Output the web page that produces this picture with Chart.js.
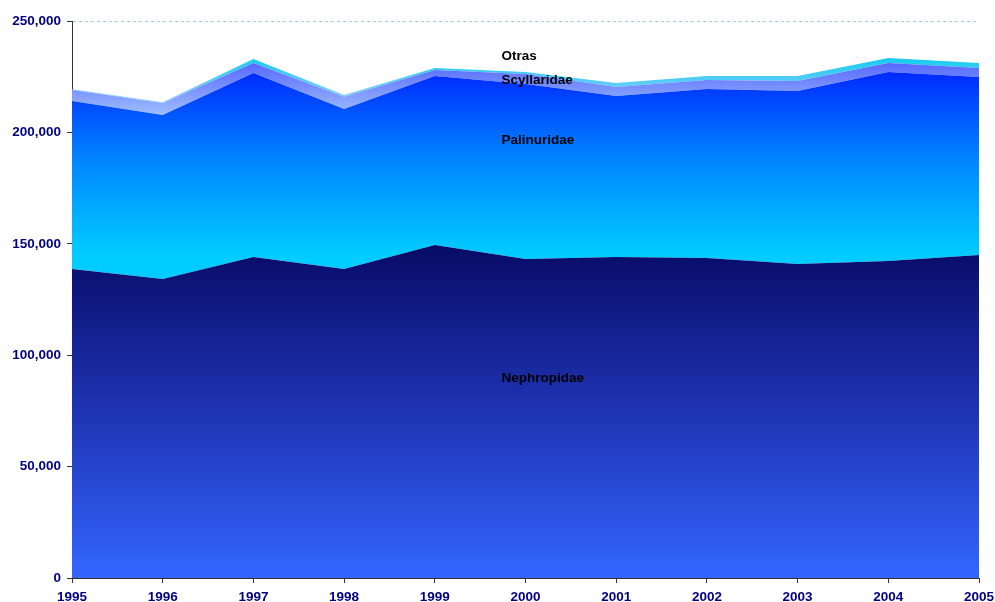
<!DOCTYPE html>
<html>
<head>
<meta charset="utf-8">
<script src="https://cdn.jsdelivr.net/npm/chart.js@4.4.1/dist/chart.umd.min.js"></script>
<style>
  html, body { margin: 0; padding: 0; background: #ffffff; }
  #chart { display: block; }
</style>
</head>
<body>
<canvas id="chart" width="995" height="602"></canvas>
<script>
// Years on the horizontal axis
const years = ['1995', '1996', '1997', '1998', '1999', '2000', '2001', '2002', '2003', '2004', '2005'];

// Catch per family (stacked areas, bottom to top)
const nephropidae = [138700, 134200, 144100, 138700, 149500, 143200, 144100, 143600, 140900, 142300, 145000];
const palinuridae = [75400, 73600, 82600, 71800, 75800, 78500, 72200, 75900, 77700, 84800, 79900];
const scyllaridae = [4900, 5400, 4400, 5500, 2700, 4500, 4100, 4000, 4500, 4000, 4000];
const otras = [400, 300, 1800, 800, 900, 900, 1800, 1800, 2200, 2300, 2200];

// Series names, written inside their own band
const seriesNames = ['Nephropidae', 'Palinuridae', 'Scyllaridae', 'Otras'];
// Where each band name sits: year it starts beside, and value height
const nameSpots = [
  { year: '2000', value: 89800 },
  { year: '2000', value: 196600 },
  { year: '2000', value: 223500 },
  { year: '2000', value: 234300 }
];

const yTicks = [0, 50000, 100000, 150000, 200000, 250000];

// Vertical gradient between values on the y scale
function bandGradient(stops) {
  return function (ctx) {
    const chart = ctx.chart;
    const area = chart.chartArea;
    if (!area) return stops[0][1];
    const y = chart.scales.y;
    const g = chart.ctx.createLinearGradient(0, y.getPixelForValue(stops[0][0]), 0, y.getPixelForValue(stops[stops.length - 1][0]));
    stops.forEach(function (s, i) { g.addColorStop(i / (stops.length - 1), s[1]); });
    return g;
  };
}

const bandLabels = {
  id: 'bandLabels',
  afterDatasetsDraw(chart) {
    const c = chart.ctx;
    const xs = chart.scales.x, ys = chart.scales.y;
    c.save();
    c.font = 'bold 13.5px "Liberation Sans", Arial, sans-serif';
    c.fillStyle = '#000000';
    c.textAlign = 'left';
    c.textBaseline = 'middle';
    seriesNames.forEach(function (name, i) {
      const spot = nameSpots[i];
      const x = xs.getPixelForValue(years.indexOf(spot.year)) - 24;
      c.fillText(name, x, ys.getPixelForValue(spot.value));
    });
    c.restore();
  }
};

const tickFont = { family: '"Liberation Sans", Arial, sans-serif', size: 13.5, weight: 'bold' };

new Chart(document.getElementById('chart'), {
  type: 'line',
  data: {
    labels: years,
    datasets: [
      {
        label: seriesNames[0], data: nephropidae, fill: 'origin',
        backgroundColor: bandGradient([[148000, '#080c68'], [75000, '#1f34b4'], [0, '#3366ff']]),
        borderWidth: 0, pointRadius: 0, tension: 0
      },
      {
        label: seriesNames[1], data: palinuridae, fill: '-1',
        backgroundColor: bandGradient([[145000, '#00ccff'], [185000, '#0088ff'], [228000, '#0028ff']]),
        borderWidth: 0, pointRadius: 0, tension: 0
      },
      {
        label: seriesNames[2], data: scyllaridae, fill: '-1',
        backgroundColor: bandGradient([[205000, '#a6c8ff'], [232000, '#5566ff']]),
        borderWidth: 0, pointRadius: 0, tension: 0
      },
      {
        label: seriesNames[3], data: otras, fill: '-1',
        backgroundColor: bandGradient([[215000, '#88ccff'], [234000, '#11ccee']]),
        borderWidth: 0, pointRadius: 0, tension: 0
      }
    ]
  },
  options: {
    responsive: false,
    animation: false,
    devicePixelRatio: 1,
    layout: { padding: { top: 21, right: 16, left: 0, bottom: 0 } },
    plugins: { legend: { display: false }, tooltip: { enabled: false } },
    scales: {
      x: {
        offset: false,
        grid: { display: true, drawOnChartArea: false, drawTicks: true, tickLength: 5, tickColor: '#333333' },
        border: { display: true, color: '#333333', width: 1 },
        ticks: { color: '#000080', font: tickFont, padding: 6, maxRotation: 0, autoSkip: false },
        afterFit(scale) { scale.height = 24; scale.paddingRight = 0; scale.paddingLeft = 0; }
      },
      y: {
        stacked: true,
        min: 0, max: 250000,
        afterBuildTicks(scale) { scale.ticks = yTicks.map(function (v) { return { value: v }; }); },
        grid: {
          drawTicks: true, tickLength: 5, tickColor: '#333333', tickBorderDash: [],
          color: function (ctx) { return ctx.tick && ctx.tick.value === 250000 ? '#9ad0e4' : 'rgba(0,0,0,0)'; }
        },
        border: { display: true, color: '#333333', width: 1, dash: [3, 3] },
        ticks: {
          color: '#000080', font: tickFont, padding: 6,
          callback: function (v) { return v.toLocaleString('en-US'); }
        },
        afterFit(scale) { scale.width = 72; scale.paddingTop = 0; scale.paddingBottom = 0; }
      }
    }
  },
  plugins: [bandLabels]
});
</script>
</body>
</html>
